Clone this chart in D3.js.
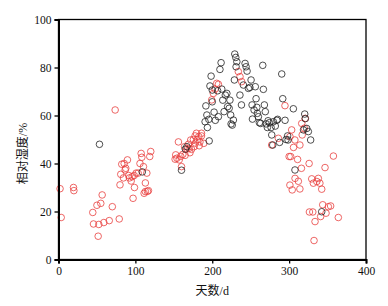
<!DOCTYPE html>
<html>
<head>
<meta charset="utf-8">
<script src="https://cdn.jsdelivr.net/npm/d3@7"></script>
<style>
  body { margin: 0; background: #fff; }
</style>
</head>
<body>
<svg id="chart" width="388" height="306"></svg>
<script>
// tick labels
var xTicks = [0, 100, 200, 300, 400];
var yTicks = [0, 20, 40, 60, 80, 100];

// red series: [day, RH%]
var redPoints = [
  [2,29.5],[3.5,17.5],[19.5,30],[20,28.7],[44.6,19.6],[45.5,14.8],[50,22.6],[52.4,14.6],[51.6,9.7],
  [55,23.4],[56.8,26.9],[59,15.4],[66,16.2],[70,22],[73.7,62.3],[79,16.9],[80,31.1],[81,35.5],
  [82.3,39.7],[84.5,34],[85.4,40],[86.7,37.3],[87.5,38],[89.7,41.5],[91.4,35],[92.3,34],[94.5,32.7],
  [95.8,34.5],[97,25.5],[98.8,30],[98.4,35],[101,36],[103.6,36],[106,40],[107.5,44.2],[108.4,42.6],
  [110.5,38.7],[111.4,27.6],[113,28.3],[113,31.9],[114.9,36],[115.7,28.4],[117,28.7],[118.7,42.9],[120,45],
  [152.5,43.6],[154,42.2],[151.7,41.8],[156,49],[157,41.5],[159,43],[160,38.7],[161.7,43.8],[164,47],
  [164.7,43.4],[167,46],[169,48],[170,46.3],[172,49.8],[173,45.9],[175.5,50],[176.4,47],[177.7,51.5],
  [179.4,52.6],[180.7,50],[182.5,51.2],[183,47.4],[184,49],[186,51.5],[186,52.6],[189,48.4],[171,44.5],[178,48.5],
  [199.3,66.5],[201.4,69.2],[203.7,71],[205.8,73.4],[208,73],
  [233.9,78.3],[236.1,76.2],[238.3,74.1],
  [277.3,47.7],[286,50.5],[294.6,64.1],[300,42.9],[302,42.9],[301.1,51.2],[303.3,54],[305.7,46.7],[307.5,49.8],
  [301,31],[304,29],[307.7,33.8],[311,41.7],[312,32.6],[314,29.4],[316,38],[314,47.7],[316.4,56.7],[317,51.9],
  [319.8,54.7],[321,58.8],[326,40],[329.4,33.6],[331.5,31.8],[333.7,15.8],[332.4,7.9],[326.4,19.8],[330.8,19.8],
  [336,32.5],[338,33.8],[340,31.8],[342.4,29.3],[343.7,22.8],[341,17.9],[346.7,38.3],[348,19.3],[351,22],
  [354,22.3],[357.6,43.1],[364,17.5]
];

// black series: [day, RH%]
var blackPoints = [
  [53.3,48],[109,36.5],[160,37.2],[165,46],[167,47],[196,49.4],[190.7,57.4],[191.7,64],[193,60.2],[193.7,55],
  [195.5,58.4],[197,72.3],[198.5,76.4],[200,70.6],[200,65.7],[202.4,61.4],[204,58],[207,70.3],[208,59.5],
  [210,79.2],[211.5,82],[212.4,71],[213.7,66.4],[215.4,61.6],[217,68.5],[219,69.2],[220,63.7],[222,63],
  [223,66.4],[224,60.2],[224.5,56.5],[226,56],[227.5,58.1],[228.8,74.8],[229.3,85.6],[230.6,84.2],[232,82.4],
  [231,80.3],[236,68.5],[238,64.4],[240.5,72.7],[242.7,81.7],[244,80.3],[245.3,78.5],[247,71.3],[249,71.7],
  [250.5,74.8],[251.8,64.4],[252.3,58.5],[254.4,62.3],[256,72],[257,67],[258,63.4],[258.7,60.9],[260,59.5],
  [261.3,57],[263,56.7],[265.7,80.9],[266.5,70.9],[267.8,64.4],[269,61.6],[270,56.5],[271.7,55],[272.6,57.8],
  [274.3,57],[276.5,55],[277.4,51.9],[278.7,47.7],[279.5,57.4],[282,55.6],[284,58],[285,58.4],[287.6,48.8],
  [290.4,77.3],[291.7,67],[294.7,58],[296,50],[298,51.5],[298.6,49.8],[305.5,62.8],[307.6,37.3],[318.7,54],
  [320.3,60.6],[321,58.7],[322.9,54.6],[325,53.3],[328,49.8],[342.4,19.9]
];

var margin = {top: 19.5, right: 22, bottom: 46.5, left: 58.5};
var width = 388 - margin.left - margin.right;
var height = 306 - margin.top - margin.bottom;

var svg = d3.select("#chart")
  .append("g")
  .attr("transform", "translate(" + margin.left + "," + margin.top + ")");

var x = d3.scaleLinear().domain([0, 400]).range([0, width]);
var y = d3.scaleLinear().domain([0, 100]).range([height, 0]);

// frame (top / right thin)
svg.append("rect")
  .attr("x", 0).attr("y", 0)
  .attr("width", width).attr("height", height)
  .attr("fill", "none")
  .attr("stroke", "#000")
  .attr("stroke-width", 1.3);

var serif = "'Liberation Serif', 'Times New Roman', serif";

// points
svg.selectAll("circle.red")
  .data(redPoints)
  .enter()
  .append("circle")
  .attr("class", "red")
  .attr("cx", function(d) { return x(d[0]); })
  .attr("cy", function(d) { return y(d[1]); })
  .attr("r", 3.3)
  .attr("fill", "none")
  .attr("stroke", "#e8403f")
  .attr("stroke-width", 0.8);

svg.selectAll("circle.black")
  .data(blackPoints)
  .enter()
  .append("circle")
  .attr("class", "black")
  .attr("cx", function(d) { return x(d[0]); })
  .attr("cy", function(d) { return y(d[1]); })
  .attr("r", 3.3)
  .attr("fill", "none")
  .attr("stroke", "#222")
  .attr("stroke-width", 0.8);

// axes
var xAxis = svg.append("g")
  .attr("transform", "translate(0," + height + ")")
  .call(d3.axisBottom(x).tickValues(xTicks).tickSize(4).tickPadding(3));

var yAxis = svg.append("g")
  .call(d3.axisLeft(y).tickValues(yTicks).tickSize(4).tickPadding(3));

[xAxis, yAxis].forEach(function(a) {
  a.select(".domain").attr("stroke-width", 2);
  a.selectAll(".tick line").attr("stroke-width", 1.3);
  a.selectAll("text")
    .attr("font-family", serif)
    .attr("font-size", "11.5px")
    .attr("fill", "#111");
});

// axis titles
svg.append("text")
  .attr("x", width / 2)
  .attr("y", height + 35)
  .attr("text-anchor", "middle")
  .attr("font-family", serif + ", 'Noto Sans CJK SC'")
  .attr("font-size", "12px")
  .attr("fill", "#111")
  .text("天数/d");

svg.append("text")
  .attr("transform", "translate(-32," + (height / 2 + 14) + ") rotate(-90)")
  .attr("text-anchor", "middle")
  .attr("font-family", serif + ", 'Noto Sans CJK SC'")
  .attr("font-size", "12px")
  .attr("fill", "#111")
  .text("相对湿度/%");
</script>
</body>
</html>
